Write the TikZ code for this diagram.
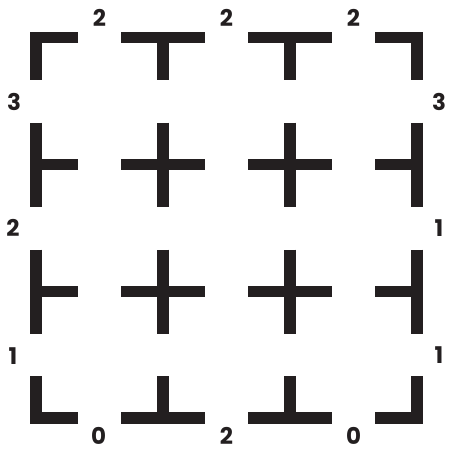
\documentclass[tikz,border=0pt]{standalone}
\usepackage{fontspec}
\setmainfont{Poppins}[BoldFont={* Bold}]
\usepackage{tikz}
\usetikzlibrary{calc}
\definecolor{ink}{RGB}{35, 31, 32}
\tikzset{
  bar/.style={draw=ink, line width=11.7pt, line join=miter},
  tally/.style={font=\fontsize{23}{23}\selectfont\bfseries, text=ink, inner sep=0pt}
}
\begin{document}
\begin{tikzpicture}[x=1pt, y=-1pt]
  \useasboundingbox (0,0) rectangle (448,453);

  % junction centres
  \coordinate (a1) at (36,37.5);   \coordinate (a2) at (163,37.5);
  \coordinate (a3) at (290,37.5);  \coordinate (a4) at (417,37.5);
  \coordinate (b1) at (36,164.5);  \coordinate (b2) at (163,164.5);
  \coordinate (b3) at (290,164.5); \coordinate (b4) at (417,164.5);
  \coordinate (c1) at (36,291.5);  \coordinate (c2) at (163,291.5);
  \coordinate (c3) at (290,291.5); \coordinate (c4) at (417,291.5);
  \coordinate (d1) at (36,418);    \coordinate (d2) at (163,418);
  \coordinate (d3) at (290,418);   \coordinate (d4) at (417,418);

  % top row
  \draw[bar] ([xshift=42pt]a1) -- (a1) -- ([yshift=-42pt]a1);
  \draw[bar] ([xshift=-42pt]a2) -- ([xshift=42pt]a2);
  \draw[bar] (a2) -- ([yshift=-42pt]a2);
  \draw[bar] ([xshift=-42pt]a3) -- ([xshift=42pt]a3);
  \draw[bar] (a3) -- ([yshift=-42pt]a3);
  \draw[bar] ([xshift=-42pt]a4) -- (a4) -- ([yshift=-42pt]a4);

  % second row
  \draw[bar] ([yshift=42pt]b1) -- ([yshift=-42pt]b1);
  \draw[bar] (b1) -- ([xshift=42pt]b1);
  \draw[bar] ([xshift=-42pt]b2) -- ([xshift=42pt]b2);
  \draw[bar] ([yshift=42pt]b2) -- ([yshift=-42pt]b2);
  \draw[bar] ([xshift=-42pt]b3) -- ([xshift=42pt]b3);
  \draw[bar] ([yshift=42pt]b3) -- ([yshift=-42pt]b3);
  \draw[bar] ([yshift=42pt]b4) -- ([yshift=-42pt]b4);
  \draw[bar] (b4) -- ([xshift=-42pt]b4);

  % third row
  \draw[bar] ([yshift=42pt]c1) -- ([yshift=-42pt]c1);
  \draw[bar] (c1) -- ([xshift=42pt]c1);
  \draw[bar] ([xshift=-42pt]c2) -- ([xshift=42pt]c2);
  \draw[bar] ([yshift=42pt]c2) -- ([yshift=-42pt]c2);
  \draw[bar] ([xshift=-42pt]c3) -- ([xshift=42pt]c3);
  \draw[bar] ([yshift=42pt]c3) -- ([yshift=-42pt]c3);
  \draw[bar] ([yshift=42pt]c4) -- ([yshift=-42pt]c4);
  \draw[bar] (c4) -- ([xshift=-42pt]c4);

  % bottom row
  \draw[bar] ([xshift=42pt]d1) -- (d1) -- ([yshift=42pt]d1);
  \draw[bar] ([xshift=-42pt]d2) -- ([xshift=42pt]d2);
  \draw[bar] (d2) -- ([yshift=42pt]d2);
  \draw[bar] ([xshift=-42pt]d3) -- ([xshift=42pt]d3);
  \draw[bar] (d3) -- ([yshift=42pt]d3);
  \draw[bar] ([xshift=-42pt]d4) -- (d4) -- ([yshift=42pt]d4);

  % edge counts
  \node[tally] (top1) at (99.5,18) {2};
  \node[tally] (top2) at (226.5,18) {2};
  \node[tally] (top3) at (353.5,18) {2};
  \node[tally] (left1) at (14,102) {3};
  \node[tally] (left2) at (13,228) {2};
  \node[tally] (left3) at (13,356) {1};
  \node[tally] (right1) at (439,102) {3};
  \node[tally] (right2) at (439,228) {1};
  \node[tally] (right3) at (439,355) {1};
  \node[tally] (bot1) at (98.5,436) {0};
  \node[tally] (bot2) at (226.5,436) {2};
  \node[tally] (bot3) at (353.5,436) {0};
\end{tikzpicture}
\end{document}
